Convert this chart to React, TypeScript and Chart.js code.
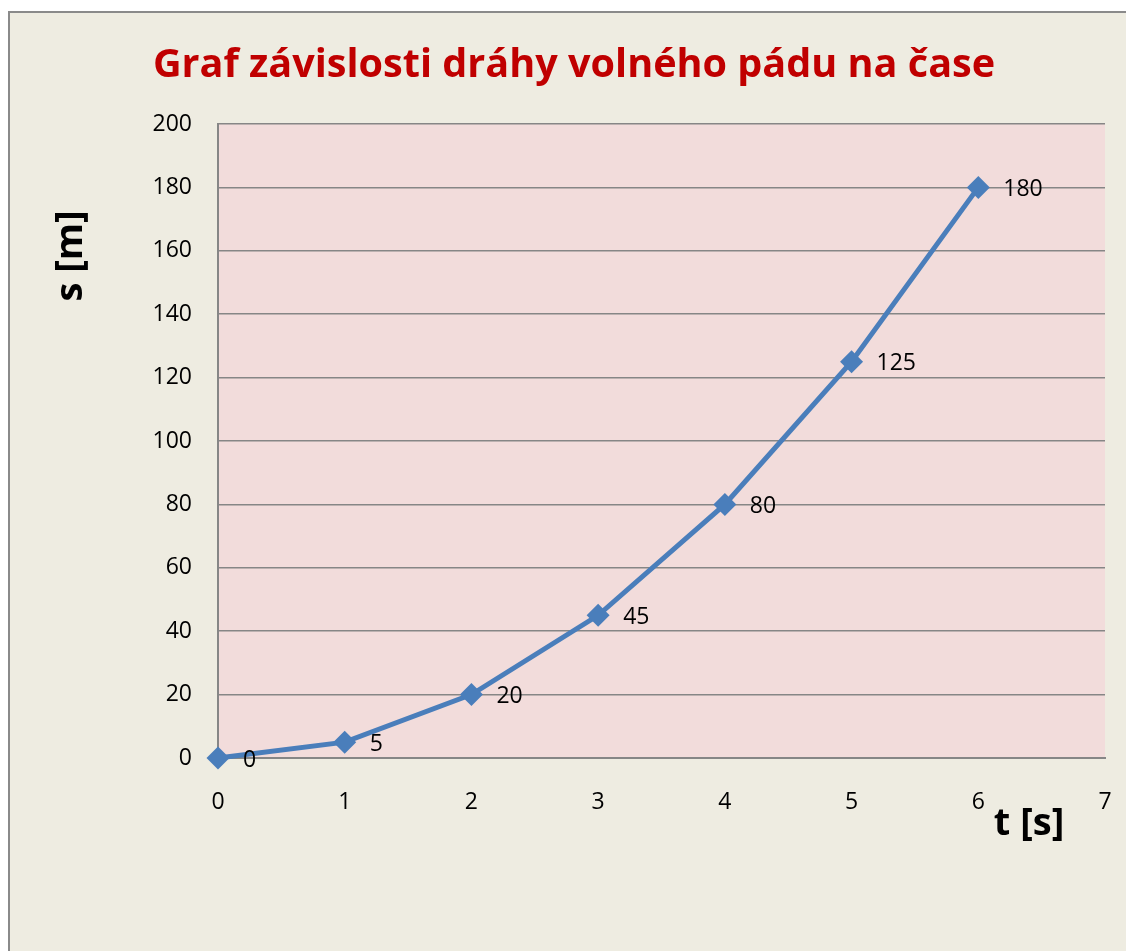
import React, { useEffect, useRef } from "react";
import { Chart, registerables } from "chart.js";

Chart.register(...registerables);

const titleText = "Graf závislosti dráhy volného pádu na čase";
const xAxisTitle = "t [s]";
const yAxisTitle = "s [m]";
const times = [0, 1, 2, 3, 4, 5, 6];
const distances = [0, 5, 20, 45, 80, 125, 180];
const xRange = [0, 7];
const xStep = 1;
const yRange = [0, 200];
const yStep = 20;

const FONT = "'Open Sans', 'Noto Sans', sans-serif";
const W = 1126;
const H = 951;

const decorPlugin = {
  id: "decor",
  beforeDraw(chart: any) {
    const { ctx, chartArea: a } = chart;
    ctx.save();
    ctx.fillStyle = "#F2DCDB";
    ctx.fillRect(a.left, a.top, a.right - a.left, a.bottom - a.top);
    ctx.restore();
  },
  afterDatasetsDraw(chart: any) {
    const { ctx } = chart;
    const meta = chart.getDatasetMeta(0);
    ctx.save();
    ctx.font = `23px ${FONT}`;
    ctx.fillStyle = "#000000";
    ctx.textAlign = "left";
    ctx.textBaseline = "middle";
    meta.data.forEach((pt: any, i: number) => {
      ctx.fillText(String(distances[i]), pt.x + 25, pt.y + 2);
    });
    ctx.restore();
  },
  afterDraw(chart: any) {
    const { ctx } = chart;
    ctx.save();
    ctx.fillStyle = "#C00000";
    ctx.font = `bold 39.6px ${FONT}`;
    ctx.textAlign = "center";
    ctx.textBaseline = "alphabetic";
    ctx.fillText(titleText, 574, 77);

    ctx.fillStyle = "#000000";
    ctx.font = `bold 38px ${FONT}`;
    ctx.textBaseline = "middle";
    ctx.fillText(xAxisTitle, 1029, 824);

    ctx.translate(71, 256);
    ctx.rotate(-Math.PI / 2);
    ctx.fillText(yAxisTitle, 0, 0);
    ctx.restore();
  },
};

export default function App() {
  const ref = useRef<HTMLCanvasElement | null>(null);

  useEffect(() => {
    if (!ref.current) return;
    const chart = new Chart(ref.current, {
      type: "line",
      data: {
        datasets: [
          {
            data: times.map((t, i) => ({ x: t, y: distances[i] })),
            borderColor: "#4A7EBB",
            backgroundColor: "#4A7EBB",
            borderWidth: 5,
            pointStyle: "rectRot",
            pointRadius: 11.5,
            pointHoverRadius: 11.5,
            pointBorderWidth: 0,
            tension: 0,
            clip: false as any,
          },
        ],
      },
      options: {
        responsive: false,
        animation: false,
        layout: {
          padding: { left: 0, top: 124, right: 21, bottom: 0 },
          autoPadding: false,
        } as any,
        plugins: {
          legend: { display: false },
          title: { display: false },
          tooltip: { enabled: false },
        },
        scales: {
          x: {
            type: "linear",
            min: xRange[0],
            max: xRange[1],
            ticks: {
              stepSize: xStep,
              padding: 31,
              color: "#000000",
              font: { family: FONT, size: 23 },
              maxRotation: 0,
            },
            grid: { display: false, drawTicks: false },
            border: { display: true, color: "#868686", width: 2 },
            afterFit(scale: any) {
              scale.height = 193;
              scale.paddingLeft = 0;
              scale.paddingRight = 0;
            },
          },
          y: {
            type: "linear",
            min: yRange[0],
            max: yRange[1],
            ticks: {
              stepSize: yStep,
              padding: 26,
              color: "#000000",
              font: { family: FONT, size: 23 },
            },
            grid: { display: true, color: "#868686", lineWidth: 1.5, drawTicks: false },
            border: { display: true, color: "#868686", width: 2 },
            afterFit(scale: any) {
              scale.width = 218;
              scale.paddingTop = 0;
              scale.paddingBottom = 0;
            },
          },
        },
      },
      plugins: [decorPlugin],
    });
    return () => chart.destroy();
  }, []);

  return (
    <>
      <div
        style={{
          position: "absolute",
          left: 8,
          top: 11,
          width: W - 8,
          height: H - 11,
          boxSizing: "border-box",
          background: "#EEECE1",
          borderTop: "2px solid #8A8A8A",
          borderLeft: "2px solid #8A8A8A",
        }}
      />
      <canvas
        ref={ref}
        width={W}
        height={H}
        style={{ position: "absolute", left: 0, top: 0, width: W, height: H }}
      />
    </>
  );
}
